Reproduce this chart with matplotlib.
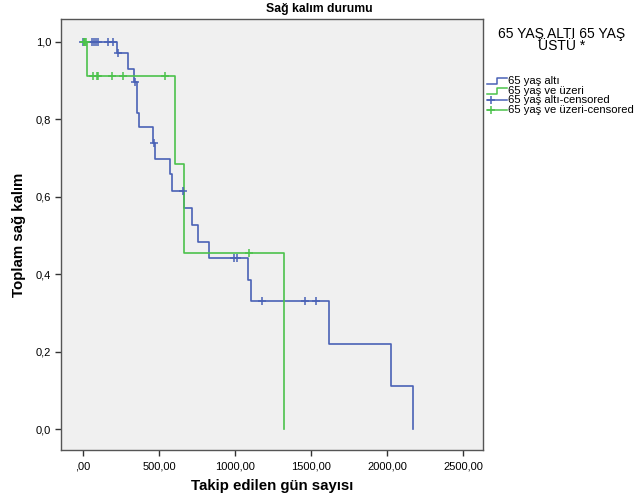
import numpy as np
import matplotlib.pyplot as plt
from matplotlib.lines import Line2D

plt.rcParams['font.family'] = ['Liberation Sans', 'DejaVu Sans']

# 65 yaş altı (blue) - step survival curve
alti_t = [0, 226, 294, 336, 357, 368, 463, 474, 572, 587, 666, 715, 754, 831, 1088, 1103, 1621, 2029, 2171]
alti_s = [1.0, 0.970, 0.930, 0.897, 0.817, 0.779, 0.739, 0.698, 0.658, 0.615, 0.570, 0.527, 0.484,
          0.441, 0.385, 0.331, 0.220, 0.110, 0.0]
alti_cens_t = [0, 57, 74, 86, 97, 167, 195, 232, 340, 470, 655, 995, 1015, 1180, 1461, 1533]
alti_cens_s = [1.0, 1.0, 1.0, 1.0, 1.0, 1.0, 1.0, 0.970, 0.897, 0.739, 0.615, 0.441, 0.441, 0.331, 0.331, 0.331]

# 65 yaş ve üzeri (green)
uzeri_t = [0, 28, 603, 667, 1320]
uzeri_s = [1.0, 0.911, 0.684, 0.456, 0.0]
uzeri_cens_t = [4, 9, 14, 19, 68, 90, 100, 189, 261, 541, 1094]
uzeri_cens_s = [1.0, 1.0, 1.0, 1.0, 0.911, 0.911, 0.911, 0.911, 0.911, 0.911, 0.456]

xticks = [0, 500, 1000, 1500, 2000, 2500]
xtick_labels = [',00', '500,00', '1000,00', '1500,00', '2000,00', '2500,00']
yticks = [0.0, 0.2, 0.4, 0.6, 0.8, 1.0]
ytick_labels = ['0,0', '0,2', '0,4', '0,6', '0,8', '1,0']

blue = '#4a62b6'
green = '#4cc24c'

W, H = 639, 503
fig = plt.figure(figsize=(W / 100, H / 100), dpi=100)
ax = fig.add_axes([61 / W, 1 - 450 / H, (483 - 61) / W, (450 - 19) / H])
ax.set_facecolor('#f0f0f0')

ax.step(alti_t, alti_s, where='post', color=blue, lw=1.2)
ax.step(uzeri_t, uzeri_s, where='post', color=green, lw=1.2)
ax.plot(alti_cens_t, alti_cens_s, ls='none', marker='+', ms=6, mew=1.1, color=blue)
ax.plot(uzeri_cens_t, uzeri_cens_s, ls='none', marker='+', ms=6, mew=1.1, color=green)

ax.set_xlim(-145, 2631)
ax.set_ylim(-0.054, 1.059)
ax.set_xticks(xticks)
ax.set_xticklabels(xtick_labels, fontsize=8)
ax.set_yticks(yticks)
ax.set_yticklabels(ytick_labels, fontsize=8)
ax.tick_params(axis='both', length=4, width=1, color='#333333', pad=3)
ax.tick_params(axis='x', pad=4)
for sp in ax.spines.values():
    sp.set_color('#555555')
    sp.set_linewidth(1.0)

ax.set_xlabel('Takip edilen gün sayısı', fontsize=10.8, fontweight='bold', labelpad=6)
ax.set_ylabel('Toplam sağ kalım', fontsize=10.8, fontweight='bold', labelpad=7)
fig.text(0.5, 1 - 9 / H, 'Sağ kalım durumu', ha='center', va='center', fontsize=8.8, fontweight='bold')

# legend drawn beside the plot
def fx(px):
    return px / W

def fy(py):
    return 1 - py / H

fig.text(fx(562), fy(40), '65 YAŞ ALTI 65 YAŞ\nÜSTÜ *', ha='center', va='center',
         fontsize=10, linespacing=0.8)
labels = ['65 yaş altı', '65 yaş ve üzeri', '65 yaş altı-censored', '65 yaş ve üzeri-censored']
rows = [80.7, 90.7, 100.3, 110]
for i, (lab, ry) in enumerate(zip(labels, rows)):
    col = blue if i % 2 == 0 else green
    if i < 2:
        xs = [486.5, 497, 497, 507]
        ys = [ry + 3, ry + 3, ry - 3, ry - 3]
        fig.add_artist(Line2D([fx(x) for x in xs], [fy(y) for y in ys], color=col, lw=1.1,
                              transform=fig.transFigure))
    else:
        fig.add_artist(Line2D([fx(486.5), fx(507)], [fy(ry), fy(ry)], color=col, lw=1.1,
                              transform=fig.transFigure))
        fig.add_artist(Line2D([fx(490.5)], [fy(ry)], marker='+', ms=6, mew=1.1, color=col,
                              transform=fig.transFigure))
    fig.text(fx(508), fy(ry), lab, ha='left', va='center', fontsize=8.1)

fig.savefig('out.png', dpi=100)
